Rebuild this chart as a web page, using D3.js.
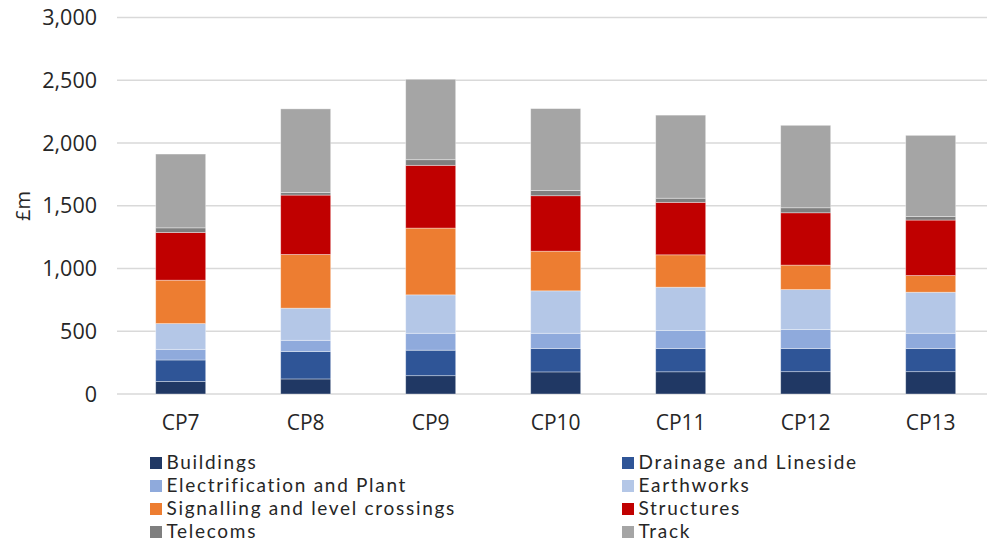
<!DOCTYPE html>
<html>
<head>
<meta charset="utf-8">
<script src="https://cdn.jsdelivr.net/npm/d3@7"></script>
<style>
  html, body { margin: 0; padding: 0; background: #fff; }
  svg { display: block; }
</style>
</head>
<body>
<svg id="chart" width="987" height="545"></svg>
<script>
// Control periods on the x axis
const categories = ["CP7", "CP8", "CP9", "CP10", "CP11", "CP12", "CP13"];

// Spend by asset type, £m, stacked bottom to top
const seriesNames = [
  "Buildings", "Drainage and Lineside", "Electrification and Plant", "Earthworks",
  "Signalling and level crossings", "Structures", "Telecoms", "Track"
];
const buildings       = [100, 120, 146, 176, 177, 178, 178];
const drainage        = [171, 218, 203, 186, 185, 184, 184];
const electrification = [85, 90, 135, 122, 143, 151, 122];
const earthworks      = [205, 256, 306, 338, 346, 319, 327];
const signalling      = [346, 428, 532, 316, 258, 195, 133];
const structures      = [380, 473, 500, 442, 418, 417, 442];
const telecoms        = [37, 21, 45, 42, 33, 40, 29];
const track           = [588, 666, 641, 652, 662, 657, 646];

const seriesColors = ["#203864", "#2F5597", "#8FAADC", "#B4C7E7", "#ED7D31", "#C00000", "#7F7F7F", "#A5A5A5"];

const yTicks = [0, 500, 1000, 1500, 2000, 2500, 3000];

const seriesValues = [buildings, drainage, electrification, earthworks, signalling, structures, telecoms, track];

// Table of rows for d3.stack
const rows = categories.map((c, i) => {
  const r = { cat: c };
  seriesNames.forEach((s, k) => { r[s] = seriesValues[k][i]; });
  return r;
});

const svg = d3.select("#chart");
const axisFont = "'Open Sans', 'DejaVu Sans', sans-serif";
const legendFont = "Lato, 'Open Sans', sans-serif";

const x = d3.scaleBand()
  .domain(categories)
  .range([118.2, 993.2])
  .paddingInner(0.6)
  .paddingOuter(0.3);

const y = d3.scaleLinear()
  .domain([0, 3000])
  .range([394, 17.5]);

// Horizontal gridlines
svg.append("g")
  .selectAll("line")
  .data(yTicks)
  .join("line")
  .attr("x1", 117)
  .attr("x2", 995)
  .attr("y1", d => y(d))
  .attr("y2", d => y(d))
  .attr("stroke", "#d9d9d9")
  .attr("stroke-width", 1.6);

// Y tick labels
svg.append("g")
  .selectAll("text")
  .data(yTicks)
  .join("text")
  .attr("x", 97)
  .attr("y", d => y(d))
  .attr("dy", "0.36em")
  .attr("text-anchor", "end")
  .attr("font-family", axisFont)
  .attr("font-size", 21.5)
  .attr("fill", "#262626")
  .text(d => d3.format(",")(d));

// Y axis title
svg.append("text")
  .attr("transform", "translate(30,206) rotate(-90)")
  .attr("text-anchor", "middle")
  .attr("font-family", axisFont)
  .attr("font-size", 20)
  .attr("fill", "#262626")
  .text("£m");

// Stacked bars
const stack = d3.stack().keys(seriesNames);
const layers = stack(rows);

svg.append("g")
  .selectAll("g")
  .data(layers)
  .join("g")
  .attr("fill", (d, i) => seriesColors[i])
  .selectAll("rect")
  .data(d => d)
  .join("rect")
  .attr("x", d => x(d.data.cat))
  .attr("width", x.bandwidth())
  .attr("y", d => y(d[1]))
  .attr("height", d => y(d[0]) - y(d[1]))
  .attr("stroke", "#ffffff")
  .attr("stroke-opacity", 0.45)
  .attr("stroke-width", 0.8);

// X category labels
svg.append("g")
  .selectAll("text")
  .data(categories)
  .join("text")
  .attr("x", d => x(d) + x.bandwidth() / 2)
  .attr("y", 430)
  .attr("text-anchor", "middle")
  .attr("font-family", axisFont)
  .attr("font-size", 21)
  .attr("fill", "#262626")
  .text(d => d);

// Legend, two columns
const legend = svg.append("g")
  .selectAll("g")
  .data(seriesNames)
  .join("g")
  .attr("transform", (d, i) => {
    const col = i % 2, row = Math.floor(i / 2);
    return `translate(${col === 0 ? 150 : 622},${469 + row * 23})`;
  });

legend.append("rect")
  .attr("x", 0)
  .attr("y", -12)
  .attr("width", 12)
  .attr("height", 12)
  .attr("fill", (d, i) => seriesColors[i]);

legend.append("text")
  .attr("x", 16.5)
  .attr("y", 0)
  .attr("font-family", legendFont)
  .attr("font-size", 19)
  .attr("letter-spacing", 1.7)
  .attr("fill", "#262626")
  .text(d => d);
</script>
</body>
</html>
